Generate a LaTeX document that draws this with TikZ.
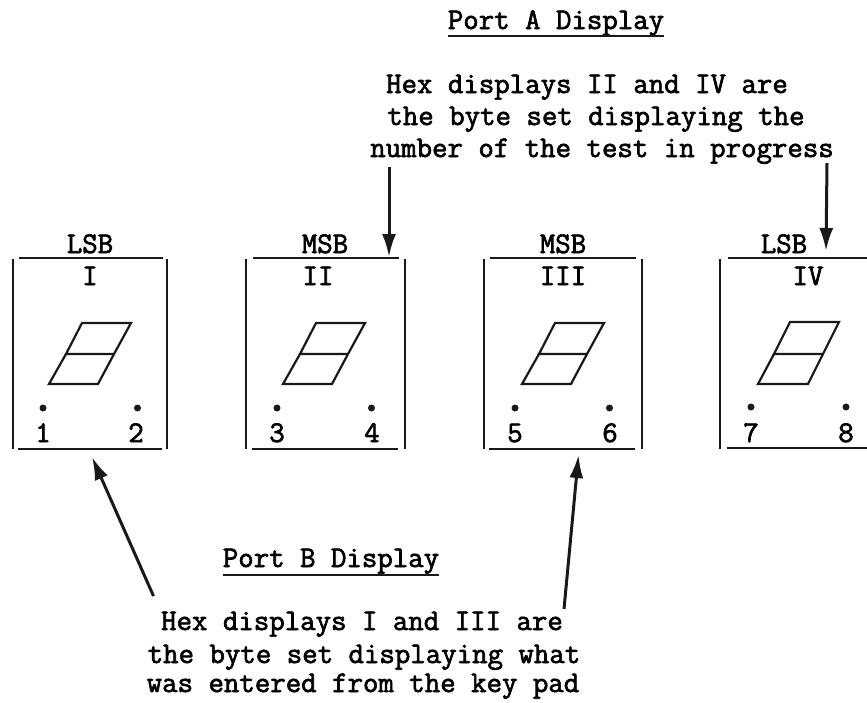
\documentclass[tikz,border=0pt]{standalone}
\usepackage{fontspec}
\newfontfamily\tw{Latin Modern Mono}[FakeBold=2.2]
\usetikzlibrary{arrows.meta}
\tikzset{
  txt/.style={inner sep=0pt,anchor=base,font=\fontsize{30}{32}\tw},
  rule/.style={line width=2.1pt,black!90},
  seg/.style={line width=2.2pt,black!90},
  dotmark/.style={circle,fill=black!90,inner sep=0pt,minimum size=7pt},
  bigarrow/.style={line width=3pt,black!90,-{Latex[length=23pt,width=14pt]}}
}
\newcommand{\hexbox}[7]{%
  \draw[rule] (#1,259) -- (#1,449);
  \draw[rule] (#2,259) -- (#2,449);
  \draw[rule] (#3,258) -- (#4,258);
  \draw[rule] (#3-1,449) -- (#4-1,449);
  \draw[seg] (#5,323) -- (#5+49,323) -- (#5+32,354) -- (#5-16,354) -- cycle;
  \draw[seg] (#5-16,354) -- (#5-33,384) -- (#5+16,384) -- (#5+32,354);
  \node[dotmark] (#7a) at (#6,408) {};
  \node[dotmark] (#7b) at (#6+94.5,408) {};
}
\begin{document}
\begin{tikzpicture}[x=1pt,y=-1pt]
\useasboundingbox (0,0) rectangle (867,702);
\hexbox{13}{167}{19}{163}{82}{43}{p}
\hexbox{246}{405}{253}{399}{316}{277}{q}
\hexbox{484}{642}{490}{636}{555}{515}{r}
\draw[rule] (720,259) -- (720,449);
\draw[rule] (728,258) -- (867,258);
\draw[rule] (727,448) -- (867,448);
\draw[seg] (790,322) -- (839,322) -- (823,354) -- (774,354) -- cycle;
\draw[seg] (774,354) -- (758,384) -- (808,384) -- (823,354);
\node[dotmark] (sa) at (751,407) {};
\node[dotmark] (sb) at (846,407) {};
\node[txt] (l1) at (90,253) {LSB};
\node[txt] (l2) at (325,253) {MSB};
\node[txt] (l3) at (563,253) {MSB};
\node[txt] (l4) at (784,253) {LSB};
\node[txt] (r1) at (90,285) {I};
\node[txt] (r2) at (318,285) {II};
\node[txt] (r3) at (563,285) {III};
\node[txt] (r4) at (808,285) {IV};
\foreach \n/\x in {1/43,2/136,3/277,4/372,5/515,6/610,7/751,8/846}
  \node[txt] (d\n) at (\x,442) {\n};
\node[txt] (pa) at (556,29) {Port A Display};
\draw[rule] (pa.west |- 0,36) -- (pa.east |- 0,36);
\node[txt] (a1) at (587,93) {Hex displays II and IV are};
\node[txt] (a2) at (596,125) {the byte set displaying the};
\node[txt] (a3) at (602,157) {number of the test in progress};
\node[txt] (pb) at (331,567) {Port B Display};
\draw[rule] (pb.west |- 0,575) -- (pb.east |- 0,575);
\node[txt] (b1) at (362,630) {Hex displays I and III are};
\node[txt] (b2) at (364,663) {the byte set displaying what};
\node[txt] (b3) at (363,692) {was entered from the key pad};
\coordinate (s1) at (389,167); \coordinate (e1) at (389,257);
\coordinate (s2) at (827,163); \coordinate (e2) at (826,251);
\coordinate (s3) at (153.5,596); \coordinate (e3) at (92,457);
\coordinate (s4) at (564,609); \coordinate (e4) at (578.5,455);
\draw[bigarrow] (s1) -- (e1);
\draw[bigarrow] (s2) -- (e2);
\draw[bigarrow] (s3) -- (e3);
\draw[bigarrow] (s4) -- (e4);
\end{tikzpicture}
\end{document}
